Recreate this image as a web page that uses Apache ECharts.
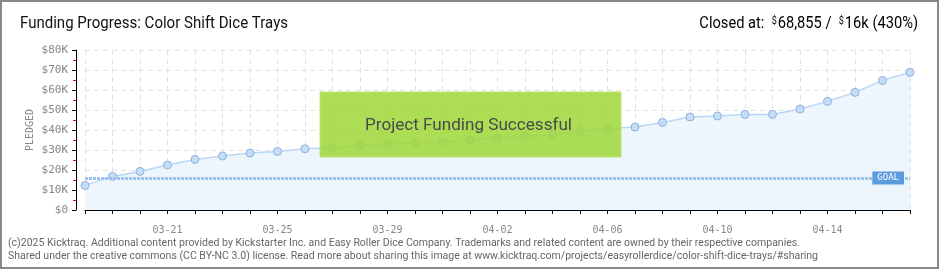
<!DOCTYPE html>
<html><head><meta charset="utf-8">
<script src="https://cdn.jsdelivr.net/npm/echarts@6/dist/echarts.min.js"></script>
<style>html,body{margin:0;padding:0;background:#fff}#c{width:940px;height:270px}</style>
</head><body><div id="c"></div>
<script>
var dates = ['03-18','03-19','03-20','03-21','03-22','03-23','03-24','03-25','03-26','03-27','03-28','03-29','03-30','03-31','04-01','04-02','04-03','04-04','04-05','04-06','04-07','04-08','04-09','04-10','04-11','04-12','04-13','04-14','04-15','04-16','04-17'];
var pledged = [12300,16800,19300,22500,25300,27000,28500,29300,30600,31100,32200,33000,33500,34000,35000,36000,36800,37800,39500,40800,41500,43800,46500,47000,47800,47800,50500,54300,58800,64800,68855];
var goal = 16000;
var yTicks = {min: 0, max: 80000, step: 10000};
var titleText = 'Funding Progress: Color Shift Dice Trays';
var yAxisName = 'PLEDGED';
var footer1 = '(c)2025 Kicktraq. Additional content provided by Kickstarter Inc. and Easy Roller Dice Company. Trademarks and related content are owned by their respective companies.';
var footer2 = 'Shared under the creative commons (CC BY-NC 3.0) license. Read more about sharing this image at www.kicktraq.com/projects/easyrollerdice/color-shift-dice-trays/#sharing';

var font = 'Roboto';
var ctx = document.createElement('canvas').getContext('2d');
function fit(text, px, target) { ctx.font = px + 'px "' + font + '"'; return target / ctx.measureText(text).width; }

var chart = echarts.init(document.getElementById('c'), null, {renderer: 'canvas'});
var closedPlain = 'Closed at:  $68,855 /  $16k (430%)';
chart.setOption({
  animation: false,
  grid: {left: 85, right: 30, top: 50, bottom: 60},
  xAxis: {
    type: 'category', data: dates, boundaryGap: false, offset: 10,
    axisLine: {lineStyle: {color: '#000', width: 1}},
    axisTick: {show: true, interval: 0, length: 4, lineStyle: {color: '#000'}},
    axisLabel: {interval: function (i) { return i % 4 === 3; }, color: '#888', fontSize: 10, fontFamily: 'DejaVu Sans Mono', margin: 5},
    splitLine: {show: true, interval: 0, lineStyle: {color: '#e2e2e2', type: [5, 4]}}
  },
  yAxis: {
    type: 'value', min: yTicks.min, max: yTicks.max, interval: yTicks.step, offset: 9,
    axisLine: {show: true, lineStyle: {color: '#000'}},
    axisTick: {show: true, length: 4, lineStyle: {color: '#000'}},
    minorTick: {show: true, splitNumber: 2, length: 3, lineStyle: {color: '#e00'}},
    axisLabel: {color: '#888', fontSize: 11, fontFamily: 'DejaVu Sans Mono', margin: 8,
      formatter: function (v) { return v === 0 ? '$0' : '$' + (v / 1000) + 'K'; }},
    splitLine: {show: true, lineStyle: {color: '#e2e2e2', type: [5, 4]}}
  },
  series: [{
    type: 'line', data: pledged, symbol: 'circle', symbolSize: 8,
    itemStyle: {color: '#c4defa', borderColor: '#8fb0d8', borderWidth: 1},
    lineStyle: {color: '#b9d7f5', width: 1.5},
    areaStyle: {color: '#edf5fd', opacity: 1},
    z: 3,
    markLine: {
      silent: true, symbol: 'none',
      lineStyle: {color: '#9fc2ea', width: 3, type: [3, 1]},
      label: {show: true, position: 'insideEnd', formatter: 'GOAL', color: '#fff',
        backgroundColor: '#5d9be0', padding: [2, 5], fontSize: 9, fontFamily: 'DejaVu Sans Mono', distance: [6, -6]},
      data: [{yAxis: goal}]
    }
  }],
  graphic: [
    {type: 'rect', shape: {x: 1, y: 1, width: 937, height: 267}, style: {fill: 'none', stroke: '#888', lineWidth: 2}, z: 100},
    {type: 'text', x: 20, y: 24, scaleX: fit(titleText, 16, 268), style: {text: titleText, font: '16px "' + font + '"', fill: '#111', verticalAlign: 'middle'}},
    {type: 'text', x: 918, y: 24, scaleX: fit(closedPlain, 16, 223), style: {
      align: 'right', verticalAlign: 'middle',
      text: '{t|Closed at:  }{s|$}{t|68,855 /  }{s|$}{t|16k (430%)}',
      rich: {t: {fontFamily: font, fontSize: 16, color: '#111'}, s: {fontFamily: font, fontSize: 10, color: '#111', verticalAlign: 'top', padding: [0, 1, 6, 0]}}
    }},
    {type: 'text', x: 30, y: 130, rotation: Math.PI / 2, style: {text: yAxisName, font: '10px "DejaVu Sans Mono"', fill: '#888', align: 'center', verticalAlign: 'middle'}},
    {type: 'rect', shape: {x: 320, y: 92, width: 301, height: 65}, style: {fill: 'rgba(160,216,62,0.88)', stroke: 'rgba(190,230,120,0.9)', lineWidth: 1}, z: 50},
    {type: 'text', x: 365, y: 126, z: 51, scaleX: fit('Project Funding Successful', 17, 207), style: {text: 'Project Funding Successful', font: '17px "' + font + '"', fill: '#4a4a4a', align: 'left', verticalAlign: 'middle', textShadowColor: '#fff', textShadowOffsetX: 1, textShadowOffsetY: 1, textShadowBlur: 0}},
    {type: 'text', x: 8, y: 243, scaleX: fit(footer1, 10, 792), style: {text: footer1, font: '10px "' + font + '"', fill: '#666', verticalAlign: 'middle'}},
    {type: 'text', x: 8, y: 256, scaleX: fit(footer2, 10, 810), style: {text: footer2, font: '10px "' + font + '"', fill: '#666', verticalAlign: 'middle'}}
  ]
});
</script></body></html>
